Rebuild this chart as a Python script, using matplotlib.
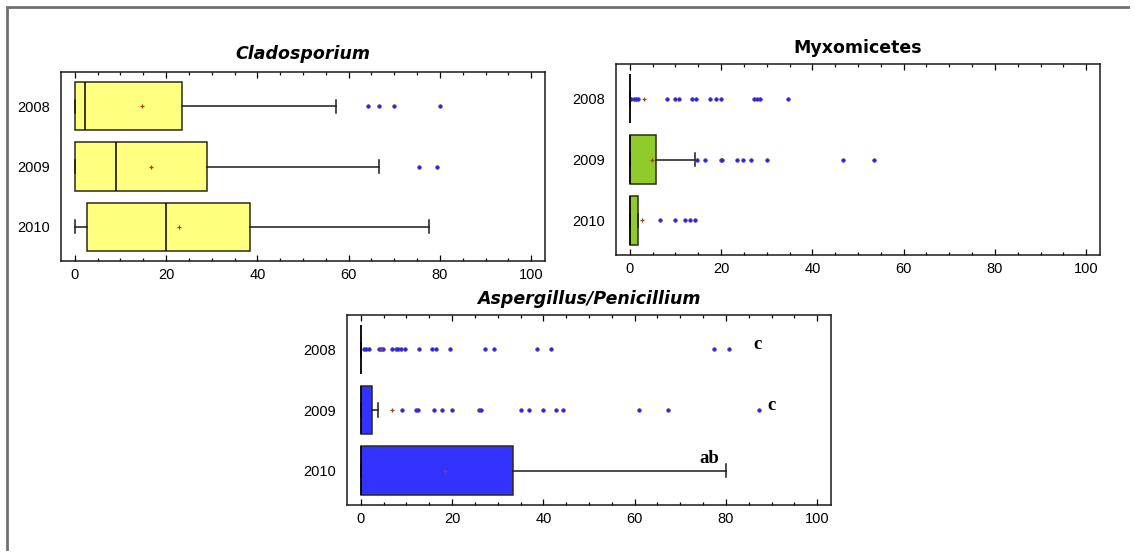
import matplotlib
matplotlib.use("Agg")
import matplotlib.pyplot as plt
from matplotlib.lines import Line2D
from matplotlib.ticker import MultipleLocator

YEARS = ["2008", "2009", "2010"]

# Cladosporium
CLADO_Q1 = [0.0, 0.0, 2.7]
CLADO_MED = [2.2, 9.1, 20.0]
CLADO_Q3 = [23.4, 28.9, 38.4]
CLADO_WLO = [0.0, 0.0, 0.0]
CLADO_WHI = [57.2, 66.6, 77.7]
CLADO_MEAN = [14.7, 16.7, 22.8]
CLADO_OUT = [[64.2, 66.6, 69.9, 80.0], [75.5, 79.3], []]

# Myxomicetes
MYXO_Q1 = [0.0, 0.0, 0.0]
MYXO_MED = [0.0, 0.0, 0.0]
MYXO_Q3 = [0.0, 5.8, 1.8]
MYXO_WLO = [0.0, 0.0, 0.0]
MYXO_WHI = [0.0, 14.2, 1.8]
MYXO_MEAN = [3.2, 4.9, 2.6]
MYXO_OUT = [
    [0.3, 0.9, 1.4, 1.9, 8.1, 10.0, 10.9, 13.7, 14.5, 17.6, 19.0, 20.0,
     27.2, 27.8, 28.5, 34.7],
    [14.7, 16.6, 20.0, 20.3, 23.5, 24.9, 26.6, 30.0, 46.8, 53.4],
    [6.7, 10.0, 12.1, 13.2, 14.2],
]

# Aspergillus/Penicillium
ASP_Q1 = [0.0, 0.0, 0.0]
ASP_MED = [0.0, 0.0, 0.0]
ASP_Q3 = [0.0, 2.5, 33.4]
ASP_WLO = [0.0, 0.0, 0.0]
ASP_WHI = [0.0, 3.7, 80.0]
ASP_MEAN = [4.4, 6.9, 18.5]
ASP_OUT = [
    [0.7, 1.2, 1.8, 4.0, 4.5, 4.9, 6.9, 7.7, 8.2, 8.8, 9.6, 12.7, 15.7,
     16.6, 19.5, 27.2, 29.2, 38.7, 41.6, 77.3, 80.6],
    [9.1, 12.1, 12.5, 16.0, 17.9, 20.0, 25.8, 26.3, 35.0, 36.9, 39.9,
     42.7, 44.3, 60.9, 67.3, 87.3],
    [],
]
ASP_LETTERS = ["c", "c", "ab"]
ASP_LETTER_X = [86.0, 89.0, 74.2]

W, H = 1135, 556
fig = plt.figure(figsize=(W / 100, H / 100), dpi=100)
plt.rcParams["font.family"] = ["Liberation Sans", "DejaVu Sans"]


def px_axes(left, top, right, bottom):
    return fig.add_axes([left / W, 1 - bottom / H, (right - left) / W, (bottom - top) / H])


def make_stats(q1, med, q3, wlo, whi, mean, out):
    stats = []
    for i in range(len(YEARS)):
        stats.append(dict(q1=q1[i], med=med[i], q3=q3[i], whislo=wlo[i],
                          whishi=whi[i], mean=mean[i], fliers=out[i],
                          label=YEARS[i]))
    return stats


def draw_panel(ax, stats, fill, title, italic=True, title_pad=4):
    pos = [0, 1, 2]
    ax.bxp(stats, positions=pos, widths=0.8, capwidths=0.22,
           orientation="horizontal", patch_artist=True, showmeans=True,
           boxprops=dict(facecolor=fill, edgecolor="#2a2a1a", linewidth=1.1),
           medianprops=dict(color="black", linewidth=1.1),
           whiskerprops=dict(color="#1a1a1a", linewidth=1.1),
           capprops=dict(color="#1a1a1a", linewidth=1.1),
           meanprops=dict(marker="+", markeredgecolor="#a0401a",
                          markersize=3, markeredgewidth=0.9),
           flierprops=dict(marker="o", markerfacecolor="#2020ff",
                           markeredgecolor="#5a3a9a", markersize=2.6,
                           markeredgewidth=0.5, linestyle="none"))
    ax.set_xlim(-3, 103)
    ax.set_ylim(2.57, -0.57)
    ax.set_yticks(pos)
    ax.set_yticklabels(YEARS)
    ax.xaxis.set_major_locator(MultipleLocator(20))
    ax.xaxis.set_minor_locator(MultipleLocator(5))
    ax.tick_params(axis="x", which="both", direction="in", top=True,
                   bottom=True, labelsize=10.5, pad=5, width=0.9)
    ax.tick_params(axis="x", which="major", length=4)
    ax.tick_params(axis="x", which="minor", length=2.2)
    ax.tick_params(axis="y", length=0, labelsize=10.5, pad=8)
    for sp in ax.spines.values():
        sp.set_linewidth(1.1)
        sp.set_color("#1a1a1a")
    ax.set_title(title, fontsize=12.5, fontweight="heavy",
                 style="italic" if italic else "normal",
                 family="DejaVu Sans", pad=title_pad)


ax1 = px_axes(61, 72, 545, 261)
draw_panel(ax1, make_stats(CLADO_Q1, CLADO_MED, CLADO_Q3, CLADO_WLO, CLADO_WHI,
                           CLADO_MEAN, CLADO_OUT), "#ffff80", "Cladosporium",
           title_pad=9.5)

ax2 = px_axes(616, 64, 1100, 255)
draw_panel(ax2, make_stats(MYXO_Q1, MYXO_MED, MYXO_Q3, MYXO_WLO, MYXO_WHI,
                           MYXO_MEAN, MYXO_OUT), "#8fcb2a", "Myxomicetes",
           italic=False, title_pad=8)

ax3 = px_axes(347, 315, 831, 505)
draw_panel(ax3, make_stats(ASP_Q1, ASP_MED, ASP_Q3, ASP_WLO, ASP_WHI,
                           ASP_MEAN, ASP_OUT), "#3333ff",
           "Aspergillus/Penicillium", title_pad=8)
for i, (lab, x) in enumerate(zip(ASP_LETTERS, ASP_LETTER_X)):
    dy = -0.13 if lab == "ab" else 0.0
    ax3.text(x, i + dy, lab, ha="left", va="baseline", fontsize=13.5,
             fontweight="bold", family="Liberation Serif")

# sunken frame: only the top and left edges are dark
fig.add_artist(Line2D([7 / W, 7 / W, (W - 7) / W],
                      [(7) / H, 1 - 7 / H, 1 - 7 / H],
                      transform=fig.transFigure, color="#707070",
                      linewidth=2, solid_joinstyle="miter"))

fig.savefig("out.png", dpi=100)
